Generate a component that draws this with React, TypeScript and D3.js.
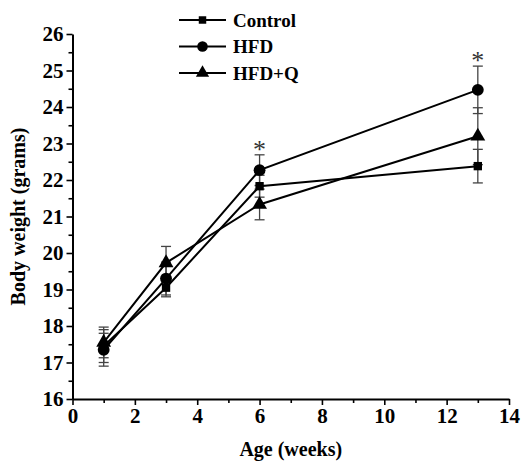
import React, { useEffect, useRef } from 'react';
import * as d3 from 'd3';

const weeks = [1, 3, 6, 13];
const controlMean = [17.45, 19.05, 21.83, 22.38];
const controlErr = [0.45, 0.25, 0.3, 0.46];
const hfdMean = [17.35, 19.3, 22.27, 24.47];
const hfdErr = [0.45, 0.45, 0.42, 0.65];
const hfdqMean = [17.55, 19.73, 21.33, 23.2];
const hfdqErr = [0.42, 0.45, 0.42, 0.78];
const seriesNames = ['Control', 'HFD', 'HFD+Q'];
const starWeeks = [6, 13];
const xTicks = [0, 2, 4, 6, 8, 10, 12, 14];
const yTicks = [16, 17, 18, 19, 20, 21, 22, 23, 24, 25, 26];

const FONT = "'Liberation Serif', 'DejaVu Serif', 'Times New Roman', Times, serif";

const App = () => {
  const ref = useRef<SVGSVGElement>(null);

  useEffect(() => {
    const svg = d3.select(ref.current);
    svg.selectAll('*').remove();

    const x = d3.scaleLinear().domain([0, 14]).range([72.5, 509]);
    const y = d3.scaleLinear().domain([16, 26]).range([399, 34]);

    const g = svg.append('g');

    // axes
    const xAxis = g.append('g').attr('transform', `translate(0,${y(16)})`)
      .call(d3.axisBottom(x).tickValues(xTicks).tickSize(6).tickSizeOuter(0).tickPadding(3));
    g.append('g').attr('transform', `translate(0,${y(16)})`)
      .call(d3.axisBottom(x).tickValues(d3.range(1, 14, 2)).tickSize(4).tickFormat(() => ''))
      .select('.domain').remove();
    const yAxis = g.append('g').attr('transform', `translate(${x(0)},0)`)
      .call(d3.axisLeft(y).tickValues(yTicks).tickSize(6).tickSizeOuter(0).tickPadding(3));
    g.append('g').attr('transform', `translate(${x(0)},0)`)
      .call(d3.axisLeft(y).tickValues(d3.range(16.5, 26, 1)).tickSize(4).tickFormat(() => ''))
      .select('.domain').remove();
    g.selectAll('.domain').attr('stroke', '#000').attr('stroke-width', 2);
    g.selectAll('.tick line').attr('stroke', '#000').attr('stroke-width', 1.6);
    [xAxis, yAxis].forEach((a) => a.selectAll('text')
      .style('font-family', FONT).attr('font-weight', 'bold').attr('font-size', 21).attr('fill', '#000'));

    // axis titles
    g.append('text').attr('x', x(7)).attr('y', 456).attr('text-anchor', 'middle')
      .style('font-family', FONT).attr('font-weight', 'bold').attr('font-size', 20).text('Age (weeks)');
    g.append('text').attr('transform', `translate(25,${y(21)}) rotate(-90)`).attr('text-anchor', 'middle')
      .style('font-family', FONT).attr('font-weight', 'bold').attr('font-size', 20).text('Body weight (grams)');

    const series = [
      { name: seriesNames[0], mean: controlMean, err: controlErr, sym: d3.symbolSquare, size: 70 },
      { name: seriesNames[1], mean: hfdMean, err: hfdErr, sym: d3.symbolCircle, size: 110 },
      { name: seriesNames[2], mean: hfdqMean, err: hfdqErr, sym: d3.symbolTriangle, size: 95 },
    ];

    const line = d3.line<number>().x((_, i) => x(weeks[i])).y((d) => y(d));

    // error bars
    series.forEach((s) => {
      s.mean.forEach((m, i) => {
        const cx = x(weeks[i]);
        const eg = g.append('g').attr('stroke', '#444').attr('stroke-width', 1.3);
        eg.append('line').attr('x1', cx).attr('x2', cx).attr('y1', y(m - s.err[i])).attr('y2', y(m + s.err[i]));
        [m - s.err[i], m + s.err[i]].forEach((v) => {
          eg.append('line').attr('x1', cx - 5).attr('x2', cx + 5).attr('y1', y(v)).attr('y2', y(v));
        });
      });
    });

    // lines and markers
    series.forEach((s) => {
      g.append('path').datum(s.mean).attr('d', line).attr('fill', 'none')
        .attr('stroke', '#000').attr('stroke-width', 2);
      s.mean.forEach((m, i) => {
        g.append('path').attr('d', d3.symbol().type(s.sym).size(s.size)())
          .attr('transform', `translate(${x(weeks[i])},${y(m)})`).attr('fill', '#000');
      });
    });

    // significance stars
    starWeeks.forEach((w) => {
      const i = weeks.indexOf(w);
      const top = d3.max(series, (s) => s.mean[i] + s.err[i]) as number;
      g.append('text').attr('x', x(w)).attr('y', y(top) + 3).attr('text-anchor', 'middle')
        .style('font-family', FONT).attr('font-size', 26).attr('fill', '#333').text('*');
    });

    // legend
    series.forEach((s, i) => {
      const ly = 20 + i * 26.5;
      const lg = g.append('g').attr('transform', `translate(179,${ly})`);
      lg.append('line').attr('x1', 0).attr('x2', 47).attr('y1', 0).attr('y2', 0)
        .attr('stroke', '#000').attr('stroke-width', 2);
      lg.append('path').attr('d', d3.symbol().type(s.sym).size(s.size * 0.8)())
        .attr('transform', 'translate(23.5,0)').attr('fill', '#000');
      lg.append('text').attr('x', 54).attr('y', 6.5).style('font-family', FONT)
        .attr('font-weight', 'bold').attr('font-size', 19).text(s.name);
    });
  }, []);

  return (
    <svg ref={ref} width={524} height={462}
      style={{ position: 'absolute', left: 0, top: 0, background: '#fff' }} />
  );
};

export default App;
